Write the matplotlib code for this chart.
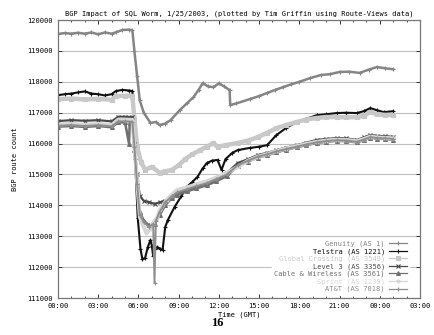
import numpy as np
import matplotlib
matplotlib.use("Agg")
from matplotlib import pyplot as plt
from matplotlib.ticker import FixedLocator, MultipleLocator

# hours since 00:00 GMT, 1/25/2003
genuity_t = [0, 0.5, 1, 1.5, 2, 2.5, 3, 3.5, 4, 4.3, 4.8, 5.3, 5.55, 5.7, 5.9, 6.1, 6.4, 6.9, 7.3, 7.6,
             8.0, 8.4, 9.1, 9.6, 10.1, 10.5, 10.8, 11.2, 11.6, 12.0, 12.4, 12.8, 12.85, 13.3, 14.3, 15.0,
             15.6, 16.2, 16.8, 17.4, 18.0, 18.8, 19.6, 20.3, 21.0, 21.7, 22.5, 23.2, 23.8, 24.4, 25.0]
genuity_v = [119550, 119580, 119560, 119590, 119560, 119600, 119540, 119600, 119560, 119600, 119680,
             119690, 119670, 119000, 118200, 117400, 117000, 116670, 116700, 116600, 116650, 116760,
             117090, 117300, 117500, 117750, 117960, 117850, 117830, 117950, 117850, 117735, 117250,
             117300, 117440, 117540, 117640, 117740, 117830, 117920, 118000, 118120, 118220, 118250,
             118320, 118330, 118290, 118400, 118480, 118440, 118410]

telstra_t = [0, 0.5, 1, 1.5, 2, 2.5, 3, 3.5, 4, 4.3, 4.8, 5.3, 5.55, 5.75, 5.95, 6.15, 6.3, 6.5, 6.7, 6.9,
             7.0, 7.1, 7.25, 7.4, 7.6, 7.8, 8.0, 8.2, 8.7, 9.2, 9.6, 10.0, 10.4, 10.8, 11.1, 11.5, 11.9,
             12.2, 12.5, 13.0, 13.4, 14.3, 15.0, 15.6, 16.3, 17.0, 17.8, 18.5, 19.3, 20.0, 20.8, 21.5,
             22.3, 22.8, 23.3, 23.8, 24.3, 25.0]
telstra_v = [117570, 117600, 117620, 117660, 117690, 117620, 117600, 117560, 117600, 117700, 117740,
             117720, 117700, 115500, 113600, 112600, 112250, 112300, 112650, 112880, 112700, 112350,
             112600, 112650, 112600, 112550, 113300, 113530, 113950, 114300, 114600, 114750, 114920,
             115200, 115370, 115450, 115470, 115150, 115500, 115700, 115790, 115860, 115900, 115950,
             116280, 116500, 116700, 116800, 116920, 116950, 116990, 117000, 116990, 117050, 117150,
             117080, 117020, 117050]

gblx_t = [0, 1, 2, 3, 4, 4.3, 5, 5.55, 5.7, 5.9, 6.2, 6.5, 7.0, 7.6, 8.0, 8.5, 9.0, 9.5, 10.0, 10.6,
          11.1, 11.6, 11.9, 12.5, 13.4, 14.2, 14.9, 15.6, 16.3, 17.0, 17.8, 18.5, 19.3, 20.0, 20.8,
          21.5, 22.3, 22.8, 23.3, 23.8, 24.4, 25.0]
gblx_v = [117440, 117460, 117430, 117450, 117420, 117540, 117550, 117540, 116800, 115900, 115400,
          115150, 115250, 115050, 115100, 115150, 115300, 115500, 115650, 115790, 115900, 116020,
          115890, 115950, 116020, 116100, 116210, 116350, 116500, 116600, 116700, 116780, 116830,
          116860, 116860, 116850, 116860, 116900, 117020, 116950, 116930, 116920]

level3_t = [0, 1, 2, 3, 4, 4.5, 5, 5.55, 5.7, 5.9, 6.1, 6.4, 6.8, 7.2, 7.6, 8.0, 8.5, 8.9, 9.6, 10.3,
            11.1, 11.8, 12.6, 13.4, 14.2, 14.9, 15.6, 16.3, 17.0, 17.8, 18.5, 19.3, 20.0, 20.8, 21.5,
            22.3, 22.8, 23.3, 23.8, 24.4, 25.0]
level3_v = [116730, 116760, 116740, 116760, 116720, 116870, 116870, 116860, 116000, 115000, 114300,
            114150, 114100, 114050, 114100, 114150, 114300, 114400, 114500, 114620, 114720, 114850,
            115050, 115370, 115500, 115630, 115700, 115790, 115870, 115950, 116030, 116120, 116150,
            116180, 116170, 116120, 116200, 116280, 116250, 116240, 116220]

cw_t = [0, 1, 2, 3, 4, 4.5, 5, 5.3, 5.35, 5.55, 5.7, 5.9, 6.1, 6.4, 6.8, 7.2, 7.6, 8.0, 8.5, 8.9, 9.6,
        10.3, 11.1, 11.8, 12.6, 13.4, 14.2, 14.9, 15.6, 16.3, 17.0, 17.8, 18.5, 19.3, 20.0, 20.8, 21.5,
        22.3, 22.8, 23.3, 23.8, 24.4, 25.0]
cw_v = [116550, 116570, 116540, 116570, 116530, 116690, 116690, 116000, 116680, 116680, 115800, 114600,
        113800, 113500, 113350, 113400, 113700, 114000, 114250, 114350, 114450, 114550, 114650, 114780,
        114950, 115280, 115420, 115550, 115620, 115720, 115800, 115880, 115950, 116020, 116060, 116090,
        116080, 116040, 116110, 116190, 116160, 116150, 116130]

sprint_t = [0, 1, 2, 3, 4, 4.5, 5, 5.55, 5.7, 5.9, 6.1, 6.4, 6.6, 6.9, 7.1, 7.4, 7.6, 8.1, 8.5, 8.9,
            9.6, 10.3, 11.1, 11.8, 12.6, 13.4, 14.2, 14.9, 15.6, 16.3, 17.0, 17.8, 18.5, 19.3, 20.0,
            20.8, 21.5, 22.3, 22.8, 23.3, 23.8, 24.4, 25.0]
sprint_v = [116620, 116640, 116610, 116640, 116600, 116780, 116780, 116770, 115900, 114800, 113620,
            113300, 113100, 113250, 113430, 113600, 113850, 114170, 114350, 114500, 114580, 114680,
            114780, 114900, 115050, 115250, 115450, 115580, 115660, 115760, 115840, 115920, 115990,
            116060, 116100, 116130, 116120, 116080, 116150, 116230, 116200, 116190, 116170]

att_t = [0, 1, 2, 3, 4, 4.5, 5, 5.55, 5.7, 5.9, 6.1, 6.4, 6.8, 7.1, 7.2, 7.3, 7.6, 8.0, 8.5, 8.9, 9.6,
         10.3, 11.1, 11.8, 12.6, 13.4, 14.2, 14.9, 15.6, 16.3, 17.0, 17.8, 18.5, 19.3, 20.0, 20.8,
         21.5, 22.3, 22.8, 23.3, 23.8, 24.4, 25.0]
att_v = [116580, 116600, 116570, 116600, 116560, 116720, 116720, 116710, 115900, 114700, 113700, 113450,
         113300, 113400, 111500, 113500, 113800, 114100, 114300, 114420, 114520, 114620, 114720, 114850,
         115000, 115300, 115450, 115580, 115650, 115750, 115820, 115900, 115970, 116040, 116080, 116110,
         116100, 116060, 116130, 116210, 116180, 116170, 116150]

series = [
    ("Genuity (AS 1)", genuity_t, genuity_v, "#858585", "+", 1.8),
    ("Telstra (AS 1221)", telstra_t, telstra_v, "#111111", "+", 1.5),
    ("Global Crossing (AS 3549)", gblx_t, gblx_v, "#c8c8c8", "s", 3.2),
    ("Level 3 (AS 3356)", level3_t, level3_v, "#4a4a4a", "x", 1.6),
    ("Cable & Wireless (AS 3561)", cw_t, cw_v, "#707070", "^", 1.8),
    ("Sprint (AS 1239)", sprint_t, sprint_v, "#d6d6d6", "*", 2.8),
    ("AT&T (AS 7018)", att_t, att_v, "#8e8e8e", "+", 1.4),
]

MONO = "DejaVu Sans Mono"

fig = plt.figure(figsize=(4.34, 3.35), dpi=100)
ax = fig.add_axes([0.1336, 0.1104, 0.834, 0.8296])

for label, t, v, color, marker, lw in series:
    ax.plot(t, v, color=color, lw=lw, marker=marker, ms=2.8, mew=0.8, label=label)

ax.set_xlim(0, 27)
ax.set_ylim(111000, 120000)
ax.xaxis.set_major_locator(FixedLocator(np.arange(0, 28, 3)))
ax.set_xticklabels([f"{int(h) % 24:02d}:00" for h in np.arange(0, 28, 3)])
ax.xaxis.set_minor_locator(MultipleLocator(1))
ax.yaxis.set_major_locator(MultipleLocator(1000))
ax.grid(axis="y", color="#c0c0c0", lw=0.8)
ax.set_axisbelow(True)
ax.tick_params(which="both", direction="in", top=True, right=True, colors="#333333")
ax.tick_params(which="major", length=3, width=0.7, labelsize=5)
ax.tick_params(which="minor", length=1.5, width=0.6)
for lab in ax.get_xticklabels() + ax.get_yticklabels():
    lab.set_family(MONO)
    lab.set_color("black")
for sp in ax.spines.values():
    sp.set_color("#777777")
    sp.set_linewidth(0.9)

ax.set_xlabel("Time (GMT)", family=MONO, fontsize=5, labelpad=2)
ax.set_ylabel("BGP route count", family=MONO, fontsize=5, labelpad=7)
ax.set_title("BGP Impact of SQL Worm, 1/25/2003, (plotted by Tim Griffin using Route-Views data)",
             family=MONO, fontsize=5, pad=3)

leg = ax.legend(loc="lower right", prop={"family": MONO, "size": 5}, markerfirst=False,
                labelcolor="linecolor", handlelength=2.6, labelspacing=0.15, borderpad=0.3,
                handletextpad=0.6, fancybox=False, framealpha=1, edgecolor="white",
                bbox_to_anchor=(0.98, 0.0))
for h in leg.legend_handles:
    h.set_linewidth(0.9)
for txt in leg.get_texts():
    txt.set_ha("right")
leg._legend_box.align = "right"

fig.text(0.5, 0.035, "16", ha="center", va="center", family="Liberation Serif",
         fontweight="bold", fontsize=9)

fig.savefig("out.png", dpi=100)
